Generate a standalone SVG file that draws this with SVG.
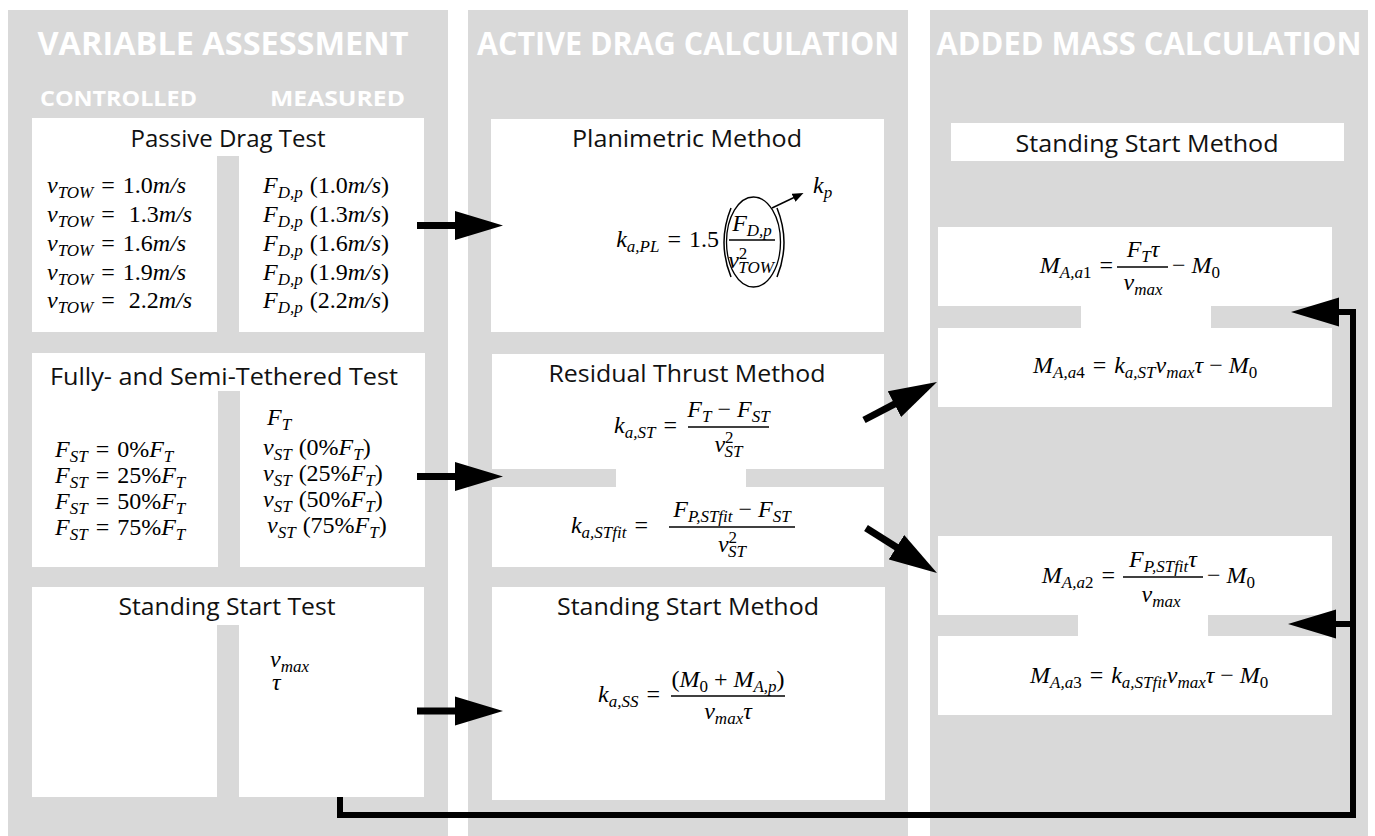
<svg xmlns="http://www.w3.org/2000/svg" width="1375" height="836" viewBox="0 0 1375 836">
<style>
.col{fill:#d9d9d9}
.box{fill:#fff}
.hdr{font-family:"Open Sans","Liberation Sans",sans-serif;font-weight:bold;fill:#fff;text-anchor:middle}
.ttl{font-family:"Open Sans","Liberation Sans",sans-serif;font-size:23px;fill:#111;text-anchor:middle}
.m{font-family:"Liberation Serif","DejaVu Serif",serif;font-size:24px;font-style:italic;fill:#000}
.n{font-style:normal}
.sb{font-size:17px}
.bar{stroke:#000;stroke-width:1.4}
.thick{stroke:#000;stroke-width:7;fill:none}
.ret{stroke:#000;stroke-width:6;fill:none;stroke-linejoin:miter}
</style>
<defs>
<marker id="ah" markerUnits="userSpaceOnUse" markerWidth="50" markerHeight="30" viewBox="0 0 50 30" refX="1" refY="15" orient="auto"><path d="M0,0.5 L48,15 L0,29.5 Z" fill="#000"/></marker>
<marker id="ahs" markerUnits="userSpaceOnUse" markerWidth="11" markerHeight="9" viewBox="0 0 11 9" refX="0.5" refY="4.5" orient="auto"><path d="M0,0 L11,4.5 L0,9 Z" fill="#000"/></marker>
</defs>
<rect width="1375" height="836" fill="#fff"/>

<g id="columns">
<rect class="col" x="8" y="10" width="440" height="826"/>
<rect class="col" x="468" y="10" width="440" height="826"/>
<rect class="col" x="930" y="10" width="438" height="826"/>
<text class="hdr" x="223" y="55" font-size="32" textLength="371" lengthAdjust="spacingAndGlyphs">VARIABLE ASSESSMENT</text>
<text class="hdr" x="688" y="55" font-size="32" textLength="422" lengthAdjust="spacingAndGlyphs">ACTIVE DRAG CALCULATION</text>
<text class="hdr" x="1149" y="55" font-size="32" textLength="425" lengthAdjust="spacingAndGlyphs">ADDED MASS CALCULATION</text>
<text class="hdr" x="118.5" y="106" font-size="22" textLength="157" lengthAdjust="spacingAndGlyphs">CONTROLLED</text>
<text class="hdr" x="337.5" y="106" font-size="22" textLength="135" lengthAdjust="spacingAndGlyphs">MEASURED</text>
</g>

<g id="passive-drag-test">
<path class="box" d="M32,118 H424 V332 H239 V156 H217 V332 H32 Z"/>
<text class="ttl" x="228" y="147" textLength="195" lengthAdjust="spacingAndGlyphs">Passive Drag Test</text>
<text class="m" x="47" y="193">v<tspan class="sb" dy="5">TOW</tspan><tspan class="n" dy="-5" dx="8">=</tspan><tspan class="n" dx="8">1.0</tspan>m/s</text>
<text class="m" x="47" y="222">v<tspan class="sb" dy="5">TOW</tspan><tspan class="n" dy="-5" dx="8">=</tspan><tspan class="n" dx="14">1.3</tspan>m/s</text>
<text class="m" x="47" y="251">v<tspan class="sb" dy="5">TOW</tspan><tspan class="n" dy="-5" dx="8">=</tspan><tspan class="n" dx="8">1.6</tspan>m/s</text>
<text class="m" x="47" y="280">v<tspan class="sb" dy="5">TOW</tspan><tspan class="n" dy="-5" dx="8">=</tspan><tspan class="n" dx="8">1.9</tspan>m/s</text>
<text class="m" x="47" y="308">v<tspan class="sb" dy="5">TOW</tspan><tspan class="n" dy="-5" dx="8">=</tspan><tspan class="n" dx="14">2.2</tspan>m/s</text>
<text class="m" x="263" y="193">F<tspan class="sb" dy="5">D,p</tspan><tspan class="n" dy="-5" dx="7">(1.0</tspan>m/s<tspan class="n">)</tspan></text>
<text class="m" x="263" y="222">F<tspan class="sb" dy="5">D,p</tspan><tspan class="n" dy="-5" dx="7">(1.3</tspan>m/s<tspan class="n">)</tspan></text>
<text class="m" x="263" y="251">F<tspan class="sb" dy="5">D,p</tspan><tspan class="n" dy="-5" dx="7">(1.6</tspan>m/s<tspan class="n">)</tspan></text>
<text class="m" x="263" y="280">F<tspan class="sb" dy="5">D,p</tspan><tspan class="n" dy="-5" dx="7">(1.9</tspan>m/s<tspan class="n">)</tspan></text>
<text class="m" x="263" y="308">F<tspan class="sb" dy="5">D,p</tspan><tspan class="n" dy="-5" dx="7">(2.2</tspan>m/s<tspan class="n">)</tspan></text>
</g>

<g id="tethered-test">
<path class="box" d="M32,353 H425 V567 H240 V391 H218 V567 H32 Z"/>
<text class="ttl" x="224" y="385" textLength="348" lengthAdjust="spacingAndGlyphs">Fully- and Semi-Tethered Test</text>
<text class="m" x="55" y="457">F<tspan class="sb" dy="5">ST</tspan><tspan class="n" dy="-5" dx="8">=</tspan><tspan class="n" dx="8">0%</tspan>F<tspan class="sb" dy="5">T</tspan></text>
<text class="m" x="55" y="483">F<tspan class="sb" dy="5">ST</tspan><tspan class="n" dy="-5" dx="8">=</tspan><tspan class="n" dx="8">25%</tspan>F<tspan class="sb" dy="5">T</tspan></text>
<text class="m" x="55" y="509">F<tspan class="sb" dy="5">ST</tspan><tspan class="n" dy="-5" dx="8">=</tspan><tspan class="n" dx="8">50%</tspan>F<tspan class="sb" dy="5">T</tspan></text>
<text class="m" x="55" y="535">F<tspan class="sb" dy="5">ST</tspan><tspan class="n" dy="-5" dx="8">=</tspan><tspan class="n" dx="8">75%</tspan>F<tspan class="sb" dy="5">T</tspan></text>
<text class="m" x="267" y="425">F<tspan class="sb" dy="5">T</tspan></text>
<text class="m" x="263" y="455">v<tspan class="sb" dy="5">ST</tspan><tspan class="n" dy="-5" dx="7">(0%</tspan>F<tspan class="sb" dy="5">T</tspan><tspan class="n" dy="-5">)</tspan></text>
<text class="m" x="263" y="481">v<tspan class="sb" dy="5">ST</tspan><tspan class="n" dy="-5" dx="7">(25%</tspan>F<tspan class="sb" dy="5">T</tspan><tspan class="n" dy="-5">)</tspan></text>
<text class="m" x="263" y="507">v<tspan class="sb" dy="5">ST</tspan><tspan class="n" dy="-5" dx="7">(50%</tspan>F<tspan class="sb" dy="5">T</tspan><tspan class="n" dy="-5">)</tspan></text>
<text class="m" x="267" y="533">v<tspan class="sb" dy="5">ST</tspan><tspan class="n" dy="-5" dx="7">(75%</tspan>F<tspan class="sb" dy="5">T</tspan><tspan class="n" dy="-5">)</tspan></text>
</g>

<g id="standing-start-test">
<path class="box" d="M32,587 H424 V797 H239 V625 H217 V797 H32 Z"/>
<text class="ttl" x="227" y="615" textLength="217" lengthAdjust="spacingAndGlyphs">Standing Start Test</text>
<text class="m" x="270" y="667">v<tspan class="sb" dy="5">max</tspan></text>
<text class="m" x="272" y="690">τ</text>
</g>

<g id="planimetric-method">
<rect class="box" x="491" y="119" width="393" height="213"/>
<text class="ttl" x="687" y="147" textLength="230" lengthAdjust="spacingAndGlyphs">Planimetric Method</text>
<text class="m" x="719" y="247" text-anchor="end">k<tspan class="sb" dy="5">a,PL</tspan><tspan class="n" dy="-5" dx="8">=</tspan><tspan class="n" dx="8">1.5</tspan></text>
<path d="M731,208 Q717,242.5 731,277" fill="none" stroke="#000" stroke-width="1.5"/>
<path d="M777,208 Q791,242.5 777,277" fill="none" stroke="#000" stroke-width="1.5"/>
<text class="m" x="752" y="231" text-anchor="middle">F<tspan class="sb" dy="5">D,p</tspan></text>
<line class="bar" x1="729" y1="240" x2="775" y2="240"/>
<text class="m" x="751" y="268" text-anchor="middle">v<tspan class="sb n" dy="-9">2</tspan><tspan class="sb" dx="-9" dy="14">TOW</tspan></text>
<ellipse cx="753.5" cy="242" rx="27" ry="45" fill="none" stroke="#000" stroke-width="1.3"/>
<line x1="772" y1="208" x2="794" y2="197.5" stroke="#000" stroke-width="1.4" marker-end="url(#ahs)"/>
<text class="m" x="813" y="193">k<tspan class="sb" dy="5">p</tspan></text>
</g>

<g id="residual-thrust-method">
<path class="box" d="M492,354 H884 V469 H746 V487 H884 V567 H492 V487 H616 V469 H492 Z"/>
<text class="ttl" x="687" y="382" textLength="277" lengthAdjust="spacingAndGlyphs">Residual Thrust Method</text>
<text class="m" x="677" y="433" text-anchor="end">k<tspan class="sb" dy="5">a,ST</tspan><tspan class="n" dy="-5" dx="8">=</tspan></text>
<text class="m" x="728.5" y="417" text-anchor="middle">F<tspan class="sb" dy="5">T</tspan><tspan class="n" dy="-5" dx="6">−</tspan><tspan dx="6">F</tspan><tspan class="sb" dy="5">ST</tspan></text>
<line class="bar" x1="688" y1="427" x2="769" y2="427"/>
<text class="m" x="728.5" y="452" text-anchor="middle">v<tspan class="sb n" dy="-9">2</tspan><tspan class="sb" dx="-9" dy="14">ST</tspan></text>
<text class="m" x="648" y="533" text-anchor="end">k<tspan class="sb" dy="5">a,STfit</tspan><tspan class="n" dy="-5" dx="8">=</tspan></text>
<text class="m" x="732" y="517" text-anchor="middle">F<tspan class="sb" dy="5">P,STfit</tspan><tspan class="n" dy="-5" dx="6">−</tspan><tspan dx="6">F</tspan><tspan class="sb" dy="5">ST</tspan></text>
<line class="bar" x1="669" y1="527" x2="795" y2="527"/>
<text class="m" x="732" y="552" text-anchor="middle">v<tspan class="sb n" dy="-9">2</tspan><tspan class="sb" dx="-9" dy="14">ST</tspan></text>
</g>

<g id="standing-start-method">
<rect class="box" x="492" y="587" width="393" height="213"/>
<text class="ttl" x="688" y="615" textLength="262" lengthAdjust="spacingAndGlyphs">Standing Start Method</text>
<text class="m" x="660" y="702" text-anchor="end">k<tspan class="sb" dy="5">a,SS</tspan><tspan class="n" dy="-5" dx="8">=</tspan></text>
<text class="m" x="728" y="687" text-anchor="middle"><tspan class="n">(</tspan>M<tspan class="sb n" dy="5">0</tspan><tspan class="n" dy="-5" dx="6">+</tspan><tspan dx="6">M</tspan><tspan class="sb" dy="5">A,p</tspan><tspan class="n" dy="-5">)</tspan></text>
<line class="bar" x1="671" y1="696" x2="785" y2="696"/>
<text class="m" x="728" y="719" text-anchor="middle">v<tspan class="sb" dy="5">max</tspan><tspan dy="-5">τ</tspan></text>
</g>

<g id="added-mass-header">
<rect class="box" x="951" y="123" width="393" height="38"/>
<text class="ttl" x="1147" y="152" textLength="263" lengthAdjust="spacingAndGlyphs">Standing Start Method</text>
</g>

<g id="added-mass-a1-a4">
<path class="box" d="M938,227 H1332 V306 H1211 V328 H1332 V407 H938 V328 H1081 V306 H938 Z"/>
<text class="m" x="1113" y="273" text-anchor="end">M<tspan class="sb" dy="5">A,a<tspan class="n">1</tspan></tspan><tspan class="n" dy="-5" dx="8">=</tspan></text>
<text class="m" x="1143" y="257" text-anchor="middle">F<tspan class="sb" dy="5">T</tspan><tspan dy="-5">τ</tspan></text>
<line class="bar" x1="1117" y1="267" x2="1168" y2="267"/>
<text class="m" x="1143" y="290" text-anchor="middle">v<tspan class="sb" dy="5">max</tspan></text>
<text class="m" x="1172" y="273"><tspan class="n">−</tspan><tspan dx="6">M</tspan><tspan class="sb n" dy="5">0</tspan></text>
<text class="m" x="1033" y="373">M<tspan class="sb" dy="5">A,a<tspan class="n">4</tspan></tspan><tspan class="n" dy="-5" dx="8">=</tspan><tspan dx="8">k</tspan><tspan class="sb" dy="5">a,ST</tspan><tspan dy="-5">v</tspan><tspan class="sb" dy="5">max</tspan><tspan dy="-5">τ</tspan><tspan class="n" dx="6">−</tspan><tspan dx="6">M</tspan><tspan class="sb n" dy="5">0</tspan></text>
</g>

<g id="added-mass-a2-a3">
<path class="box" d="M938,536 H1332 V615 H1208 V636 H1332 V715 H938 V636 H1078 V615 H938 Z"/>
<text class="m" x="1115" y="583" text-anchor="end">M<tspan class="sb" dy="5">A,a<tspan class="n">2</tspan></tspan><tspan class="n" dy="-5" dx="8">=</tspan></text>
<text class="m" x="1163" y="567" text-anchor="middle">F<tspan class="sb" dy="5">P,STfit</tspan><tspan dy="-5">τ</tspan></text>
<line class="bar" x1="1123" y1="577" x2="1203" y2="577"/>
<text class="m" x="1161" y="602" text-anchor="middle">v<tspan class="sb" dy="5">max</tspan></text>
<text class="m" x="1207" y="583"><tspan class="n">−</tspan><tspan dx="6">M</tspan><tspan class="sb n" dy="5">0</tspan></text>
<text class="m" x="1030" y="683">M<tspan class="sb" dy="5">A,a<tspan class="n">3</tspan></tspan><tspan class="n" dy="-5" dx="8">=</tspan><tspan dx="8">k</tspan><tspan class="sb" dy="5">a,STfit</tspan><tspan dy="-5">v</tspan><tspan class="sb" dy="5">max</tspan><tspan dy="-5">τ</tspan><tspan class="n" dx="6">−</tspan><tspan dx="6">M</tspan><tspan class="sb n" dy="5">0</tspan></text>
</g>

<g id="connectors">
<line class="thick" x1="417" y1="225.5" x2="456" y2="225.5" marker-end="url(#ah)"/>
<line class="thick" x1="417" y1="476.5" x2="456" y2="476.5" marker-end="url(#ah)"/>
<line class="thick" x1="417" y1="711" x2="456" y2="711" marker-end="url(#ah)"/>
<line class="thick" x1="864" y1="420" x2="895.3" y2="403.7" marker-end="url(#ah)"/>
<line class="thick" x1="866" y1="528" x2="897.3" y2="547.8" marker-end="url(#ah)"/>
<polyline class="ret" points="340,797 340,815 1353,815 1353,312 1338,312" marker-end="url(#ah)"/>
<line class="ret" x1="1353" y1="624" x2="1335" y2="624" marker-end="url(#ah)"/>
</g>
</svg>
